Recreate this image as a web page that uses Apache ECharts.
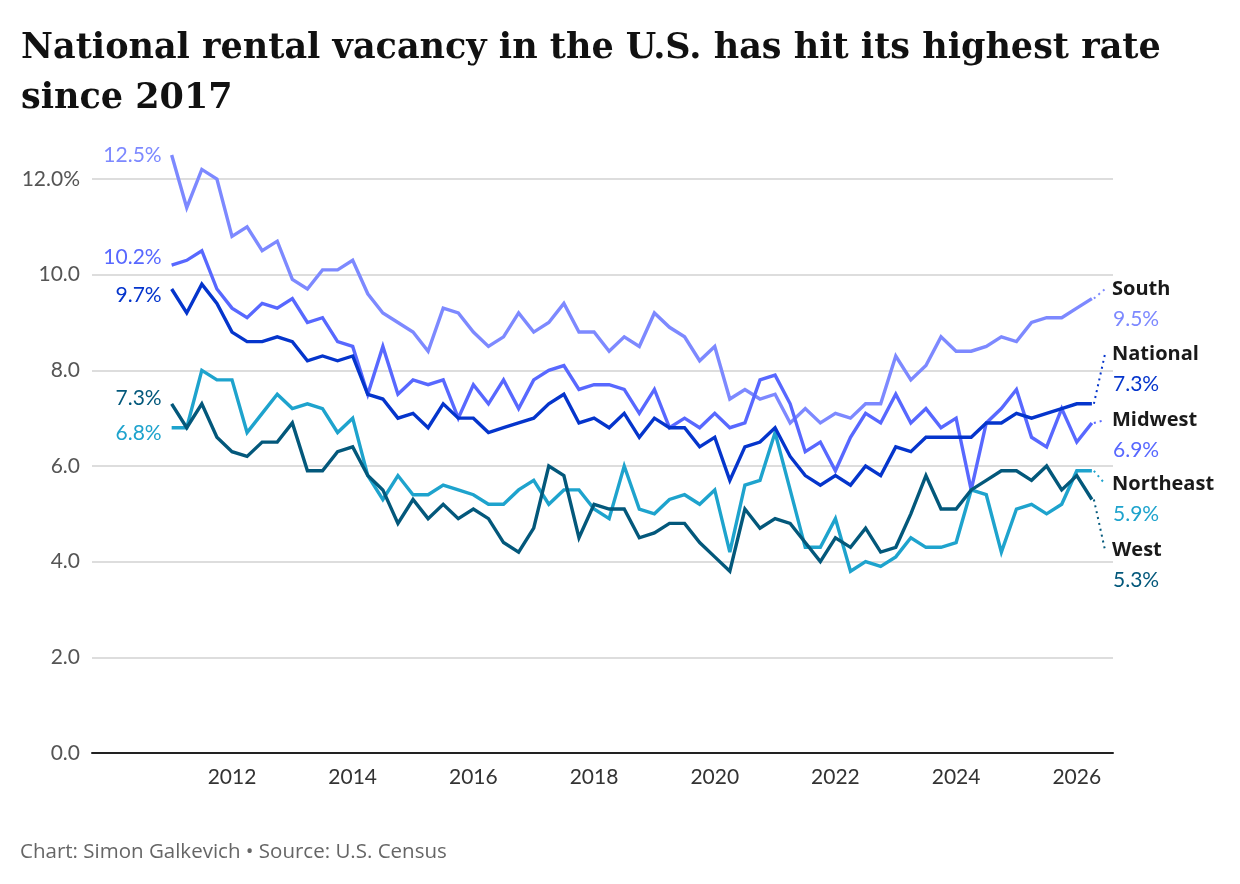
<!DOCTYPE html>
<html>
<head>
<meta charset="utf-8">
<title>National rental vacancy</title>
<script src="https://cdn.jsdelivr.net/npm/echarts@6/dist/echarts.min.js"></script>
<style>
  html, body { margin: 0; padding: 0; background: #fff; }
  #main { width: 1240px; height: 884px; }
</style>
</head>
<body>
<div id="main"></div>
<script>
// 季度数据，从 2011 年第一季度开始，每季度一个值（%）
const firstYear = 2011
const south = [12.5, 11.4, 12.2, 12.0, 10.8, 11.0, 10.5, 10.7, 9.9, 9.7, 10.1, 10.1, 10.3, 9.6, 9.2, 9.0,
  8.8, 8.4, 9.3, 9.2, 8.8, 8.5, 8.7, 9.2, 8.8, 9.0, 9.4, 8.8, 8.8, 8.4, 8.7, 8.5,
  9.2, 8.9, 8.7, 8.2, 8.5, 7.4, 7.6, 7.4, 7.5, 6.9, 7.2, 6.9, 7.1, 7.0, 7.3, 7.3,
  8.3, 7.8, 8.1, 8.7, 8.4, 8.4, 8.5, 8.7, 8.6, 9.0, 9.1, 9.1, 9.3, 9.5]
const midwest = [10.2, 10.3, 10.5, 9.7, 9.3, 9.1, 9.4, 9.3, 9.5, 9.0, 9.1, 8.6, 8.5, 7.5, 8.5, 7.5,
  7.8, 7.7, 7.8, 7.0, 7.7, 7.3, 7.8, 7.2, 7.8, 8.0, 8.1, 7.6, 7.7, 7.7, 7.6, 7.1,
  7.6, 6.8, 7.0, 6.8, 7.1, 6.8, 6.9, 7.8, 7.9, 7.3, 6.3, 6.5, 5.9, 6.6, 7.1, 6.9,
  7.5, 6.9, 7.2, 6.8, 7.0, 5.5, 6.9, 7.2, 7.6, 6.6, 6.4, 7.2, 6.5, 6.9]
const national = [9.7, 9.2, 9.8, 9.4, 8.8, 8.6, 8.6, 8.7, 8.6, 8.2, 8.3, 8.2, 8.3, 7.5, 7.4, 7.0,
  7.1, 6.8, 7.3, 7.0, 7.0, 6.7, 6.8, 6.9, 7.0, 7.3, 7.5, 6.9, 7.0, 6.8, 7.1, 6.6,
  7.0, 6.8, 6.8, 6.4, 6.6, 5.7, 6.4, 6.5, 6.8, 6.2, 5.8, 5.6, 5.8, 5.6, 6.0, 5.8,
  6.4, 6.3, 6.6, 6.6, 6.6, 6.6, 6.9, 6.9, 7.1, 7.0, 7.1, 7.2, 7.3, 7.3]
const northeast = [6.8, 6.8, 8.0, 7.8, 7.8, 6.7, 7.1, 7.5, 7.2, 7.3, 7.2, 6.7, 7.0, 5.8, 5.3, 5.8,
  5.4, 5.4, 5.6, 5.5, 5.4, 5.2, 5.2, 5.5, 5.7, 5.2, 5.5, 5.5, 5.1, 4.9, 6.0, 5.1,
  5.0, 5.3, 5.4, 5.2, 5.5, 4.2, 5.6, 5.7, 6.7, 5.5, 4.3, 4.3, 4.9, 3.8, 4.0, 3.9,
  4.1, 4.5, 4.3, 4.3, 4.4, 5.5, 5.4, 4.2, 5.1, 5.2, 5.0, 5.2, 5.9, 5.9]
const west = [7.3, 6.8, 7.3, 6.6, 6.3, 6.2, 6.5, 6.5, 6.9, 5.9, 5.9, 6.3, 6.4, 5.8, 5.5, 4.8,
  5.3, 4.9, 5.2, 4.9, 5.1, 4.9, 4.4, 4.2, 4.7, 6.0, 5.8, 4.5, 5.2, 5.1, 5.1, 4.5,
  4.6, 4.8, 4.8, 4.4, 4.1, 3.8, 5.1, 4.7, 4.9, 4.8, 4.4, 4.0, 4.5, 4.3, 4.7, 4.2,
  4.3, 5.0, 5.8, 5.1, 5.1, 5.5, 5.7, 5.9, 5.9, 5.7, 6.0, 5.5, 5.8, 5.3]

// 坐标轴刻度
const yearTicks = [2012, 2014, 2016, 2018, 2020, 2022, 2024, 2026]
const yTicks = [0, 2, 4, 6, 8, 10, 12]

// 每个季度在时间轴上的位置（年份小数）
const quarters = south.map((v, i) => firstYear + i / 4)

// 系列样式：颜色、起点标签的上下偏移、右侧标签的 y 位置
const seriesList = [
  { name: 'South', values: south, color: '#7d89ff', startDy: 0, endY: 289 },
  { name: 'Midwest', values: midwest, color: '#5868ff', startDy: -8, endY: 420 },
  { name: 'Northeast', values: northeast, color: '#1ea3cd', startDy: 6, endY: 484 },
  { name: 'West', values: west, color: '#03587b', startDy: -6, endY: 550 },
  { name: 'National', values: national, color: '#0535cc', startDy: 6, endY: 354 }
]

const sans = 'Lato, "Noto Sans", sans-serif'
const wide = '"Open Sans", Lato, sans-serif'

var chartDom = document.getElementById('main')
var myChart = echarts.init(chartDom)
var option

option = {
  animation: false,
  textStyle: { fontFamily: sans },
  title: [
    {
      text: 'National rental vacancy in the U.S. has hit its highest rate\nsince 2017',
      left: 16,
      top: 19,
      textStyle: {
        fontFamily: '"DejaVu Serif", serif',
        fontWeight: 'bold',
        fontSize: 35,
        lineHeight: 50,
        color: '#111'
      }
    },
    {
      text: 'Chart: Simon Galkevich • Source: U.S. Census',
      left: 15,
      top: 837,
      textStyle: { fontFamily: wide, fontWeight: 'normal', fontSize: 20.5, color: '#666' }
    }
  ],
  grid: { left: 92, right: 127, top: 179, bottom: 131, containLabel: false, outerBoundsMode: 'none' },
  xAxis: {
    type: 'value',
    min: 2009.68,
    max: 2026.6,
    axisLine: { show: true, lineStyle: { color: '#222', width: 2 } },
    axisTick: { show: false },
    splitLine: { show: false },
    axisLabel: {
      customValues: yearTicks,
      formatter: v => String(v),
      fontFamily: sans,
      fontSize: 21,
      color: '#333',
      margin: 14
    }
  },
  yAxis: {
    type: 'value',
    min: yTicks[0],
    max: yTicks[yTicks.length - 1],
    interval: 2,
    axisLine: { show: false },
    axisTick: { show: false },
    splitLine: { lineStyle: { color: '#d2d2d2', width: 1.5 } },
    axisLabel: {
      formatter: v => v === 12 ? '12.0%' : v.toFixed(1),
      fontFamily: sans,
      fontSize: 21,
      color: '#555',
      margin: 12
    }
  },
  series: seriesList.map(s => ({
    name: s.name,
    type: 'line',
    showSymbol: false,
    symbol: 'none',
    clip: false,
    emphasis: { disabled: true },
    lineStyle: { color: s.color, width: 3.4, join: 'miter', miterLimit: 4 },
    itemStyle: { color: s.color },
    data: s.values.map((v, i) => [quarters[i], v])
  }))
}

option && myChart.setOption(option)

// 起点与终点标签，位置由图表坐标换算
const graphics = []
seriesList.forEach(s => {
  const first = myChart.convertToPixel({ gridIndex: 0 }, [quarters[0], s.values[0]])
  const lastIdx = s.values.length - 1
  const last = myChart.convertToPixel({ gridIndex: 0 }, [quarters[lastIdx], s.values[lastIdx]])

  //左侧起始值
  graphics.push({
    type: 'text',
    x: first[0] - 10,
    y: first[1] + s.startDy,
    style: {
      text: s.values[0].toFixed(1) + '%',
      fill: s.color,
      fontFamily: sans,
      fontSize: 21,
      textAlign: 'right',
      textVerticalAlign: 'middle',
      verticalAlign: 'middle'
    }
  })

  //虚线引线
  graphics.push({
    type: 'polyline',
    shape: { points: [[last[0] + 2, last[1]], [1105, s.endY]] },
    style: { stroke: s.color, lineWidth: 2, lineDash: [2, 4], fill: null }
  })

  //右侧名称和数值
  graphics.push({
    type: 'text',
    x: 1112,
    y: s.endY,
    style: {
      text: s.name,
      fill: '#1a1a1a',
      fontFamily: wide,
      fontWeight: 'bold',
      fontSize: 20,
      textAlign: 'left',
      textVerticalAlign: 'middle',
      verticalAlign: 'middle'
    }
  })
  graphics.push({
    type: 'text',
    x: 1113,
    y: s.endY + 30,
    style: {
      text: s.values[lastIdx].toFixed(1) + '%',
      fill: s.color,
      fontFamily: sans,
      fontSize: 21,
      textAlign: 'left',
      textVerticalAlign: 'middle',
      verticalAlign: 'middle'
    }
  })
})

myChart.setOption({ graphic: graphics })
</script>
</body>
</html>
